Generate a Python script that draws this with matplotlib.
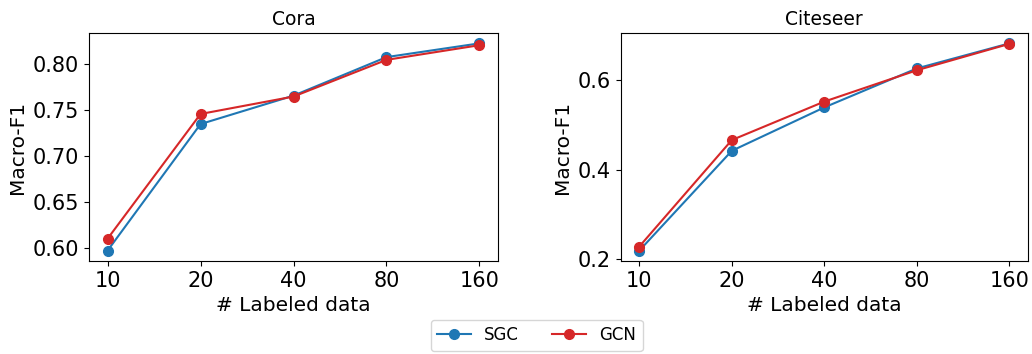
import numpy as np
import matplotlib
matplotlib.use("Agg")
import matplotlib.pyplot as plt

labels = ["10", "20", "40", "80", "160"]

cora_sgc = [0.597, 0.735, 0.766, 0.808, 0.823]
cora_gcn = [0.610, 0.746, 0.765, 0.805, 0.821]

citeseer_sgc = [0.219, 0.442, 0.539, 0.626, 0.682]
citeseer_gcn = [0.228, 0.466, 0.552, 0.622, 0.681]

plt.rcParams["font.size"] = 15

fig = plt.figure(figsize=(10.32, 3.54), dpi=100)
ax1 = fig.add_axes([0.0862, 0.2627, 0.3964, 0.6441])
ax2 = fig.add_axes([0.6015, 0.2627, 0.3946, 0.6441])

x = np.arange(len(labels))
for ax, sgc, gcn, title in [(ax1, cora_sgc, cora_gcn, "Cora"),
                            (ax2, citeseer_sgc, citeseer_gcn, "Citeseer")]:
    ax.plot(x, sgc, "-o", color="tab:blue", lw=1.5, ms=7, label="SGC")
    ax.plot(x, gcn, "-o", color="tab:red", lw=1.5, ms=7, label="GCN")
    ax.set_xticks(x)
    ax.set_xticklabels(labels)
    ax.set_title(title, fontsize=13.5)
    ax.set_xlabel("# Labeled data", fontsize=14.5)
    ax.set_ylabel("Macro-F1", fontsize=14.5)

ax1.set_yticks([0.60, 0.65, 0.70, 0.75, 0.80])
ax2.set_yticks([0.2, 0.4, 0.6])

handles, lbls = ax1.get_legend_handles_labels()
fig.legend(handles, lbls, loc="lower center", ncol=2, fontsize=12,
           bbox_to_anchor=(0.52, -0.015), columnspacing=2.0)

fig.savefig("out.png", dpi=100)
